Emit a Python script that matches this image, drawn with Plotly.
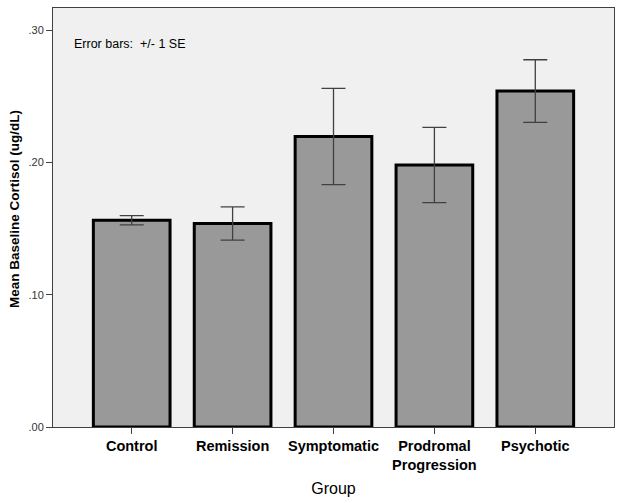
import plotly.graph_objects as go

categories = ["Control", "Remission", "Symptomatic", "Prodromal<br>Progression", "Psychotic"]
means = [0.1563, 0.1538, 0.2196, 0.1980, 0.2539]
se = [0.0035, 0.0126, 0.0364, 0.0284, 0.0237]
ytick_vals = [0.0, 0.1, 0.2, 0.3]
ytick_text = [".00", ".10", ".20", ".30"]

fig = go.Figure()
fig.add_trace(go.Bar(
    x=list(range(len(categories))),
    y=means,
    width=0.76,
    marker=dict(color="#999999", line=dict(color="#000000", width=3)),
    error_y=dict(type="data", array=se, visible=True, color="#404040",
                 thickness=1.3, width=12),
    showlegend=False,
    hoverinfo="skip",
))

fig.update_layout(
    width=624, height=503,
    margin=dict(l=53, r=10, t=8, b=76, autoexpand=False),
    paper_bgcolor="white",
    plot_bgcolor="#f0f0f0",
    font=dict(family="Liberation Sans, Arial, sans-serif", color="#000000"),
    xaxis=dict(
        range=[-0.78, 4.78],
        automargin=False,
        tickmode="array",
        tickvals=list(range(len(categories))),
        ticktext=["<b>%s</b>" % c for c in categories],
        tickfont=dict(size=14.5, color="#000000"),
        ticks="outside", ticklen=6, tickcolor="#404040", tickwidth=1,
        showline=True, linecolor="#404040", linewidth=1, mirror=True,
        showgrid=False, zeroline=False,
        title=dict(text="Group", font=dict(size=16), standoff=10),
    ),
    yaxis=dict(
        range=[0, 0.3167],
        automargin=False,
        tickmode="array",
        tickvals=ytick_vals,
        ticktext=ytick_text,
        tickfont=dict(size=11, color="#333333"),
        ticks="outside", ticklen=6, tickcolor="#404040", tickwidth=1,
        showline=True, linecolor="#404040", linewidth=1, mirror=True,
        showgrid=False, zeroline=False,
    ),
    annotations=[
        dict(
            text="Error bars:  +/- 1 SE",
            xref="paper", yref="paper",
            x=(72 - 53) / 561, y=1 - (44 - 8) / 419,
            xanchor="left", yanchor="middle",
            showarrow=False,
            font=dict(size=12.5, color="#000000"),
        ),
        dict(
            text="<b>Mean Baseline Cortisol (ug/dL)</b>",
            xref="paper", yref="paper",
            x=-(53 - 14) / 561, y=1 - (209 - 8) / 419,
            xanchor="center", yanchor="middle",
            textangle=-90,
            showarrow=False,
            font=dict(size=13.5, color="#000000"),
        ),
    ],
)

fig.write_html("out.html", config={"displayModeBar": False},
               post_script="document.body.style.margin='0';document.body.style.overflow='hidden';")
